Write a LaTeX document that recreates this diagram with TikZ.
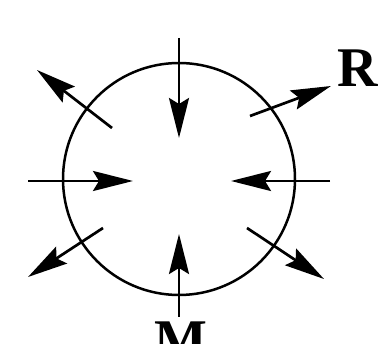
\documentclass[tikz,border=0pt]{standalone}
\usepackage{fontspec}
\setmainfont{Liberation Serif}
\usetikzlibrary{arrows.meta}
\begin{document}
\begin{tikzpicture}[x=1pt,y=-1pt,
  arr/.style={line width=2.7pt,-{Stealth[length=40pt,width=20pt,inset=6pt]}},
  lab/.style={font=\bfseries\fontsize{56}{56}\selectfont, inner sep=0pt}]
\clip (0,0) rectangle (386,344);
\useasboundingbox (0,0) rectangle (386,344);
\node[draw, circle, line width=2.5pt, minimum size=232pt, inner sep=0pt] (c) at (179,179) {};
% inward arrows
\coordinate (t0) at (179,38);  \coordinate (t1) at (179,138);
\coordinate (l0) at (28,181);  \coordinate (l1) at (133,181);
\coordinate (r0) at (330,181); \coordinate (r1) at (231,181);
\coordinate (b0) at (179,317); \coordinate (b1) at (179,234);
% outward arrows
\coordinate (ul0) at (112,128); \coordinate (ul1) at (37,70);
\coordinate (ur0) at (250,116); \coordinate (ur1) at (331,86);
\coordinate (ll0) at (103,228); \coordinate (ll1) at (28,277);
\coordinate (lr0) at (247,228); \coordinate (lr1) at (324,279);
\draw[arr] (t0) -- (t1);
\draw[arr] (l0) -- (l1);
\draw[arr] (r0) -- (r1);
\draw[arr] (b0) -- (b1);
\draw[arr] (ul0) -- (ul1);
\draw[arr] (ur0) -- (ur1);
\draw[arr] (ll0) -- (ll1);
\draw[arr] (lr0) -- (lr1);
\node[lab, anchor=base] (R) at (358,87) {R};
\node[lab, anchor=north] (M) at (181,322) {M};
\end{tikzpicture}
\end{document}
